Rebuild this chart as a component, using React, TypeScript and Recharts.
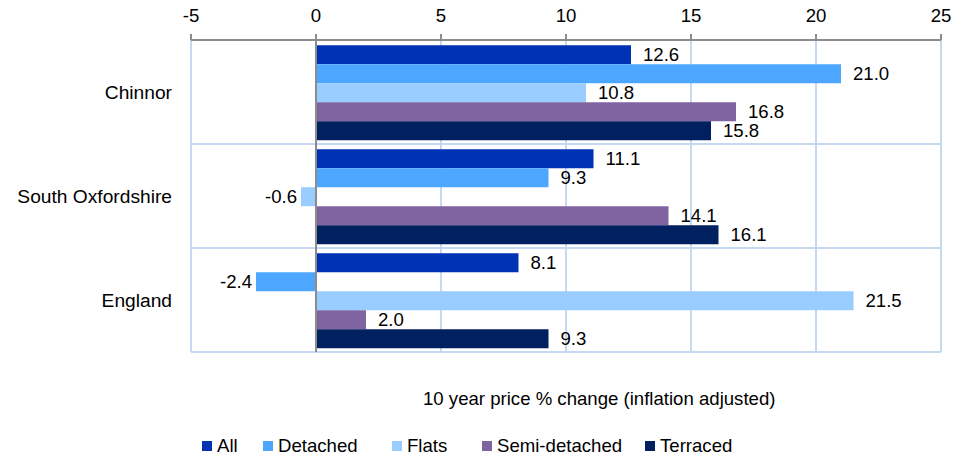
import {
  BarChart,
  Bar,
  XAxis,
  YAxis,
  CartesianGrid,
  ReferenceLine,
  LabelList,
  Legend
} from "recharts";

const areas = ["Chinnor", "South Oxfordshire", "England"];
const allTypes = [12.6, 11.1, 8.1];
const detached = [21.0, 9.3, -2.4];
const flats = [10.8, -0.6, 21.5];
const semiDetached = [16.8, 14.1, 2.0];
const terraced = [15.8, 16.1, 9.3];
const xTicks = [-5, 0, 5, 10, 15, 20, 25];

const series = [
  { key: "all", name: "All", color: "#0032b4" },
  { key: "detached", name: "Detached", color: "#4da6ff" },
  { key: "flats", name: "Flats", color: "#99ccff" },
  { key: "semi", name: "Semi-detached", color: "#8064a2" },
  { key: "terraced", name: "Terraced", color: "#002060" }
];

const data = areas.map((name, i) => ({
  name,
  all: allTypes[i],
  detached: detached[i],
  flats: flats[i],
  semi: semiDetached[i],
  terraced: terraced[i]
}));

const FONT = "'Liberation Sans', Arial, sans-serif";
const legendX = [202, 263, 392, 482, 645];

function BottomLegend() {
  return (
    <div style={{ position: "relative", height: 100, width: 955, fontFamily: FONT, fontSize: 18.6, color: "#000" }}>
      <div style={{ position: "absolute", left: 423, top: 36, whiteSpace: "nowrap" }}>
        10 year price % change (inflation adjusted)
      </div>
      {series.map((s, i) => (
        <div
          key={s.key}
          style={{ position: "absolute", left: legendX[i], top: 83, display: "flex", alignItems: "center", whiteSpace: "nowrap" }}
        >
          <span style={{ display: "inline-block", width: 10, height: 10, background: s.color, marginRight: 5 }} />
          <span>{s.name}</span>
        </div>
      ))}
    </div>
  );
}

// value label: a bit of space after positive bars, tight before negative ones
function ValueLabel(props: any) {
  const { x, y, width, height, value } = props;
  const v = Number(value);
  const left = Math.min(x, x + width);
  const right = Math.max(x, x + width);
  const neg = v < 0;
  return (
    <text
      x={neg ? left - 4 : right + 12}
      y={y + height / 2}
      dy="0.35em"
      textAnchor={neg ? "end" : "start"}
      fill="#000"
      fontSize={18.6}
      fontFamily={FONT}
    >
      {v.toFixed(1)}
    </text>
  );
}

export default function App() {
  return (
    <div style={{ position: "absolute", left: 0, top: 0 }}>
      <BarChart
        width={955}
        height={456}
        layout="vertical"
        data={data}
        margin={{ top: 0, right: 14, left: 0, bottom: 4 }}
        barCategoryGap="5%"
        barGap={0}
      >
        <CartesianGrid
          stroke="#c5d9f1"
          strokeWidth={2}
          horizontalCoordinatesGenerator={({ offset }: any) => [
            offset.top,
            offset.top + offset.height / 3,
            offset.top + (2 * offset.height) / 3,
            offset.top + offset.height
          ]}
        />
        <XAxis
          type="number"
          orientation="top"
          domain={[-5, 25]}
          ticks={xTicks}
          height={40}
          axisLine={{ stroke: "#8c8c8c", strokeWidth: 2 }}
          tickLine={{ stroke: "#8c8c8c", strokeWidth: 2 }}
          tickSize={6}
          tickMargin={12}
          tick={{ fill: "#000", fontSize: 18.6, fontFamily: FONT }}
        />
        <YAxis
          type="category"
          dataKey="name"
          width={191}
          axisLine={false}
          tickLine={false}
          tickSize={6}
          tickMargin={13}
          tick={{ fill: "#000", fontSize: 19.2, fontFamily: FONT }}
        />
        {series.map((s) => (
          <Bar key={s.key} dataKey={s.key} name={s.name} fill={s.color} isAnimationActive={false}>
            <LabelList dataKey={s.key} content={ValueLabel} />
          </Bar>
        ))}
        <ReferenceLine x={0} stroke="#8c8c8c" strokeWidth={2} />
        <Legend verticalAlign="bottom" content={() => <BottomLegend />} />
      </BarChart>
    </div>
  );
}
